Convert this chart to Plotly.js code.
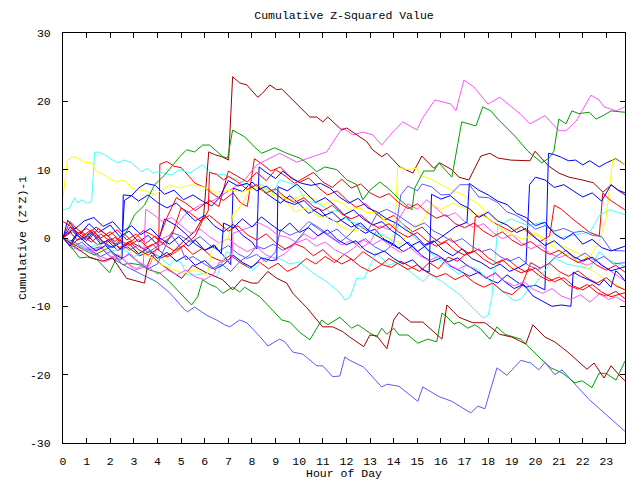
<!DOCTYPE html>
<html>
<head>
<meta charset="utf-8">
<script src="https://cdn.plot.ly/plotly-3.0.1.min.js"></script>
<style>html,body{margin:0;padding:0;background:#fff;}#chart{width:640px;height:480px;}</style>
</head>
<body>
<div id="chart"></div>
<script>
// ---- data: hours and cumulative (Z*Z)-1 values for each run ----
const hourTicks = [0,1,2,3,4,5,6,7,8,9,10,11,12,13,14,15,16,17,18,19,20,21,22,23];
const valueTicks = [-30,-20,-10,0,10,20,30];

const hrsDarkRedA = [0,0.28,0.61,1.04,1.46,1.89,2.31,2.73,3.24,3.67,4.17,4.6,5.15,5.57,5.95,6.17,6.42,6.72,7.01,7.18,7.48,7.78,8.24,8.45,8.75,9.05,9.26,9.6,10.02,10.45,10.74,11.0,11.21,11.8,12.01,12.44,12.86,13.11,13.49,13.71,14.26,14.81,15.19,15.7,15.95,16.46,16.76,17.18,17.69,18.07,18.41,18.96,19.77,19.98,20.57,20.99,21.42,21.97,22.44,22.86,23.2,23.49,23.79];
const valDarkRedA = [0,0.9,-0.3,0.3,-1.0,-0.4,-1.8,-1.3,-2.6,-2.0,-2.9,-2.2,-0.3,0.9,3.1,12.6,12.2,11.9,11.4,23.6,22.7,22.4,20.6,21.2,22.4,21.7,21.8,20.6,19.2,17.7,17.7,17.0,17.7,15.8,16.1,15.1,14.1,12.9,11.9,12.4,10.4,9.5,12.0,10.2,11.0,10.0,8.9,8.5,12.0,12.4,11.7,11.4,11.3,12.7,10.5,9.5,8.9,8.5,8.1,6.7,7.8,7.0,6.3];

const hrsDarkRedB = [0,0.36,0.70,1.12,1.67,2.10,2.69,3.45,3.58,3.75,4.09,5.02,5.49,6.08,6.76,7.18,7.56,7.99,8.24,8.67,9.05,9.47,9.73,10.32,10.99,11.42,11.84,12.14,12.73,12.99,13.28,13.71,14.0,14.22,14.72,15.23,16.04,16.25,16.76,17.35,17.86,18.49,19.0,19.59,19.89,20.4,20.82,21.37,22.18,22.48,22.9,23.2,23.58,23.79];
const valDarkRedB = [0,-0.9,-1.8,-2.8,-3.4,-2.9,-5.9,-6.6,-4.0,-2.5,-3.7,-5.9,-4.0,-5.1,-6.1,-7.6,-6.1,-6.6,-6.6,-4.9,-5.9,-6.6,-8.1,-10.2,-13.0,-13.0,-13.7,-14.5,-15.9,-14.2,-14.3,-16.2,-12.0,-10.9,-12.3,-12.3,-14.8,-9.8,-11.6,-12.4,-12.4,-14.1,-14.5,-15.5,-12.7,-14.5,-15.2,-16.7,-19.2,-18.3,-20.5,-18.7,-20.2,-20.9];

const hrsSlateA = [0,0.49,1.04,1.55,2.05,2.69,3.37,3.96,4.51,5.15,5.27,5.57,6.08,6.5,6.84,7.06,7.48,7.78,8.33,8.67,9.17,9.39,9.73,10.15,10.74,10.99,11.42,11.72,11.93,12.14,12.73,13.49,13.71,14.22,15.02,15.23,15.91,16.46,17.26,17.56,17.86,18.37,18.79,19.38,19.8,20.14,20.4,20.82,21.12,22.26,23.79];
const valSlateA = [0,-0.6,-1.8,-1.3,-2.9,-4.2,-5.4,-6.4,-8.0,-10.5,-10.8,-10.1,-11.3,-12.0,-12.7,-13.0,-12.0,-12.4,-14.4,-15.8,-14.8,-15.2,-16.7,-17.0,-18.7,-18.7,-20.3,-20.2,-17.4,-17.9,-18.9,-21.8,-21.4,-21.7,-23.9,-21.8,-23.2,-23.9,-25.6,-24.6,-25.0,-19.0,-20.1,-17.9,-18.3,-19.3,-18.2,-20.0,-19.3,-23.6,-28.3];

const hrsSlateB = [0,0.4,0.8,1.2,1.6,2.0,2.4,2.8,3.2,3.6,4.0,4.3,4.6,5.0,5.4,5.8,6.2,6.6,7.0,7.4,7.8,8.2,8.6,9.0,9.2,9.6,10.0,10.4,10.8,11.2,11.6,12.0,12.4,12.8,13.2,13.6,14.0,14.3,14.6,15.0,15.2,15.6,16.0,16.4,16.8,17.2,17.6,18.0,18.4,18.8,19.2,19.6,20.0,20.4,20.8,21.2,21.6,22.0,22.4,22.8,23.2,23.79];
const valSlateB = [0,-1.3,-0.6,-1.9,-2.7,-2.0,-3.2,-2.4,-3.6,-4.5,-3.8,-1.5,0.8,0.3,-0.6,0.2,-1.0,-1.9,-1.1,-2.3,-3.0,-2.4,-3.5,-2.0,1.2,0.4,1.0,2.4,1.6,0.6,1.3,0.0,-0.8,-0.1,-1.3,-2.0,-0.8,6.3,7.6,6.9,7.9,7.5,6.3,6.4,7.8,7.8,6.0,5.9,5.2,3.8,3.3,2.4,1.3,1.8,1.0,1.4,0.8,1.0,0.4,0.2,-1.8,-1.9];

const hrsSlateC = [0,0.4,0.8,1.2,1.6,2.0,2.4,2.8,3.2,3.6,4.0,4.3,4.6,5.0,5.2,5.5,5.9,6.3,6.7,7.1,7.5,7.9,8.2,8.5,8.9,9.3,9.7,10.1,10.5,10.9,11.3,11.7,12.1,12.5,12.9,13.3,13.7,14.1,14.5,14.9,15.3,15.7,16.1,16.5,16.9,17.3,17.7,18.1,18.5,18.9,19.3,19.7,20.1,20.5,20.9,21.3,21.7,22.1,22.5,22.9,23.3,23.79];
const valSlateC = [0,0.9,-0.2,0.7,-0.5,-1.4,-0.6,-1.8,-1.0,-2.1,-1.2,-0.8,0.3,-1.5,-3.2,-2.7,-3.6,-4.5,-3.8,-4.9,-3.4,-2.5,-1.2,-1.6,-0.9,-1.8,-1.2,0.5,2.1,1.1,0.3,-0.7,0.4,1.9,1.0,3.6,4.2,3.5,2.5,1.6,2.2,1.0,0.3,-0.6,-0.1,-1.2,-2.0,-1.6,-2.7,-3.4,-2.8,-4.0,-4.6,-3.9,-2.6,-1.8,-3.0,-2.2,-3.3,-2.7,-3.8,-3.6];

const hrsGreenA = [0,0.28,0.70,1.04,1.46,1.97,2.27,2.52,2.82,3.24,3.67,4.09,4.51,5.36,5.44,5.7,5.91,6.21,6.5,6.76,7.18,7.48,7.69,8.33,8.75,9.26,9.6,10.02,10.45,10.95,11.21,11.72,12.22,12.48,12.99,13.28,13.49,13.71,14.0,14.22,14.6,15.02,15.44,15.82,16.04,16.21,16.55,16.76,17.14,17.43,17.65,18.07,18.37,18.71,19.38,19.72,20.23,20.65,21.16,21.67,21.97,22.39,22.69,22.98,23.41,23.79];
const valGreenA = [0,-1.0,-2.9,-2.8,-3.2,-5.1,-2.9,-3.9,-3.7,-3.9,-4.7,-5.1,-6.4,-9.4,-9.8,-8.6,-6.1,-6.8,-7.2,-8.1,-7.2,-7.9,-7.2,-8.6,-10.2,-12.0,-12.3,-13.8,-14.9,-12.0,-12.7,-11.6,-13.2,-12.7,-13.9,-14.5,-13.2,-14.1,-13.2,-14.2,-14.2,-15.4,-14.8,-15.2,-11.0,-11.4,-12.6,-12.3,-13.2,-12.7,-13.2,-14.8,-13.0,-14.1,-14.8,-16.0,-17.7,-19.0,-19.8,-21.2,-20.9,-21.9,-19.8,-19.8,-20.8,-18.0];

const hrsGreenB = [0,0.49,0.91,1.33,1.76,2.18,2.61,3.03,3.45,3.88,4.3,4.94,5.23,5.57,5.91,6.21,6.76,6.97,7.18,7.69,8.11,8.41,8.96,9.47,10.02,10.32,10.74,11.08,11.59,12.01,12.44,12.69,12.99,13.41,13.75,14.26,14.77,14.89,15.27,15.7,15.91,16.46,16.88,17.48,17.77,18.11,18.41,19.13,19.68,20.27,20.57,20.78,20.99,21.29,21.54,21.84,22.27,22.56,22.86,23.2,23.79];
const valGreenB = [0,-1.0,-1.8,-2.5,-1.8,-1.0,0.4,3.4,4.8,7.8,9.2,11.9,12.9,12.6,13.6,13.6,11.9,11.7,15.8,14.8,13.3,12.4,13.2,12.4,11.7,11.0,9.7,10.4,10.0,8.5,7.8,5.6,7.0,8.2,7.3,5.6,4.1,7.3,9.8,9.8,11.0,8.9,17.0,16.4,19.2,18.6,17.4,14.9,12.7,11.0,11.7,12.7,17.4,16.7,18.6,18.2,18.4,17.4,17.9,18.6,18.4];

const hrsMagentaA = [0,0.49,1.12,1.76,2.39,3.03,3.67,4.09,4.51,5.15,5.78,6.42,7.06,7.69,8.2,8.62,9.17,9.89,10.57,11.16,11.63,11.84,12.27,12.69,13.11,13.49,13.96,14.38,14.98,15.23,15.74,16.42,16.63,16.97,17.39,17.99,18.49,18.83,19.34,19.77,20.4,20.99,21.29,21.72,22.35,22.69,22.9,23.41,23.79];
const valMagentaA = [0,-1.0,-1.8,-3.5,-2.5,-4.7,-4.0,-0.3,0.4,3.4,4.8,5.6,7.0,8.5,10.7,11.4,12.4,11.1,11.9,12.6,15.1,16.1,15.1,15.5,15.1,13.6,15.5,17.0,15.8,17.6,20.2,19.6,18.6,23.1,22.1,19.6,20.6,19.6,18.2,16.7,17.9,15.7,15.7,17.1,20.9,20.2,19.2,18.6,19.2];

const hrsMagentaB = [0,0.3,0.7,1.1,1.5,1.9,2.3,2.7,3.1,3.4,3.5,3.8,4.2,4.6,5.0,5.4,5.8,6.2,6.6,7.0,7.4,7.8,8.2,8.6,9.0,9.4,9.8,10.2,10.6,11.0,11.4,11.8,12.2,12.6,13.0,13.4,13.8,14.2,14.6,15.0,15.4,15.8,16.2,16.6,17.0,17.4,17.8,18.2,18.6,19.0,19.4,19.8,20.2,20.6,21.0,21.4,21.8,22.2,22.6,23.0,23.4,23.79];
const valMagentaB = [0,-0.9,-1.9,-1.4,-2.6,-3.1,-2.4,-3.6,-4.5,-3.9,4.2,3.5,2.4,3.0,1.8,0.7,1.3,0.2,-0.7,-0.1,-1.2,-2.0,-1.3,-2.5,-3.0,-2.3,-0.9,0.6,-0.2,0.9,-0.1,-1.0,-0.4,-1.5,-0.6,1.8,1.2,2.7,5.0,4.2,5.6,4.4,3.1,3.7,2.4,1.5,2.1,0.8,-0.1,0.5,-0.7,-1.6,-1.0,-2.2,-2.9,-2.3,-3.5,-4.0,-3.3,-4.4,-5.4,-6.3];

const hrsMagentaC = [0,0.4,0.8,1.2,1.6,2.0,2.4,2.8,3.2,3.6,4.0,4.4,4.8,5.2,5.6,6.0,6.4,6.6,7.0,7.15,7.2,7.6,8.0,8.3,8.7,9.1,9.5,9.9,10.3,10.7,11.1,11.5,11.9,12.3,12.7,13.1,13.5,13.9,14.3,14.7,15.1,15.5,15.9,16.3,16.7,17.1,17.5,17.9,18.3,18.7,19.1,19.5,19.9,20.3,20.7,21.1,21.5,21.9,22.3,22.7,23.1,23.4,23.79];
const valMagentaC = [0,-1.7,-1.0,-2.1,-1.3,-2.6,-3.3,-2.2,-3.5,-4.2,-5.3,-4.6,-5.4,-4.7,-5.7,-6.1,-5.2,-3.6,-3.2,-3.0,0.7,1.2,1.7,2.2,1.5,0.4,0.1,-0.7,-0.1,-1.2,-0.6,-1.7,-2.4,-1.5,-0.3,-1.0,-0.2,-1.3,-2.1,-1.4,-2.6,-3.3,-2.7,-3.8,-4.6,-3.9,-5.0,-5.8,-5.2,-6.3,-7.0,-6.4,-7.5,-8.1,-7.4,-8.5,-9.0,-8.3,-9.4,-8.2,-9.0,-8.6,-9.4];

const hrsYellowA = [0,0.19,0.4,0.61,0.91,1.21,1.42,1.63,1.89,2.27,2.48,2.69,2.9,3.11,3.45,3.88,4.51,4.94,5.44,5.91,6.42,7.18,7.56,8.11,8.67,9.17,9.73,10.15,10.74,11.0,11.42,11.84,12.14,12.56,12.86,13.28,13.71,14.05,14.17,14.55,14.98,15.11,15.65,16.16,16.93,17.52,18.24,19.13,19.68,20.57,20.99,21.84,22.27,22.69,22.98,23.28,23.49,23.79];
const valYellowA = [6.0,11.4,11.9,11.7,11.1,11.0,9.7,9.5,8.8,8.2,8.5,8.2,7.3,7.0,7.0,6.3,7.8,7.3,7.8,7.5,6.7,7.0,6.7,7.3,6.6,6.0,5.6,6.3,5.6,4.8,5.6,5.1,4.1,4.4,3.7,3.8,2.2,1.6,10.4,10.0,10.2,9.2,8.5,7.5,6.3,5.1,2.8,1.3,0.9,-0.4,-0.9,-2.3,-2.9,-0.6,2.8,11.7,11.3,10.7];

const hrsYellowB = [0,0.4,0.9,1.4,1.9,2.4,2.6,3.1,3.6,4.1,4.6,5.1,5.6,6.1,6.3,6.6,7.0,7.2,7.5,7.9,8.3,8.8,9.3,9.8,10.3,10.8,11.3,11.8,12.3,12.8,13.3,13.8,14.3,14.8,15.2,15.6,16.0,16.5,17.0,17.5,18.0,18.5,19.0,19.5,20.0,20.5,21.0,21.5,22.0,22.5,23.0,23.4,23.79];
const valYellowB = [0,-1.2,-0.5,-2.0,-1.4,-3.0,-0.8,-1.9,-2.6,-3.8,-4.5,-5.2,-4.6,-5.5,-1.7,-0.7,-0.1,3.5,4.6,7.0,7.6,6.8,6.2,3.8,4.4,3.2,3.0,1.6,1.0,1.5,0.2,0.0,-0.8,1.6,2.3,4.9,4.2,5.1,4.4,3.4,2.9,1.4,0.5,-0.2,0.8,-0.6,-2.0,-2.6,-4.0,-5.0,-6.2,-6.8,-7.6];

const hrsCyanA = [0,0.28,0.49,0.61,0.79,1.0,1.21,1.34,1.46,1.76,2.1,2.31,2.6,2.9,3.32,3.58,3.8,4.05,4.3,4.6,4.94,5.36,5.9,6.3,6.9,7.4,7.9,8.4,8.9,9.17,9.47,9.9,10.3,10.8,11.3,11.7,12.1,12.6,13.1,13.6,14.0,14.26,14.68,15.11,15.4,15.8,16.2,16.76,17.05,17.5,18.2,18.6,19.1,19.4,19.7,20.0,20.8,21.3,22.3,22.7,23.1,23.79];
const valCyanA = [4.1,4.4,5.9,5.1,5.6,5.1,5.3,12.5,12.6,12.2,11.4,11.0,11.4,11.0,9.7,10.2,9.5,9.7,9.5,9.2,10.0,9.5,10.7,9.5,9.2,8.5,7.6,7.8,6.6,8.5,8.2,7.6,5.4,5.1,3.8,4.1,2.5,2.0,0.6,0.4,-0.6,2.6,0.7,-0.7,-1.8,-2.8,-3.9,-5.3,-4.0,-4.5,-6.7,-7.8,-9.2,-8.9,-7.5,-6.7,-2.9,-3.8,-4.5,-2.0,-3.2,-4.2];

const hrsCyanB = [0,0.5,1.0,1.5,2.0,2.5,3.0,3.5,3.67,4.09,4.51,4.72,5.02,5.23,5.65,6.08,6.5,6.93,7.48,8.03,8.62,9.05,9.6,10.02,10.57,11.16,11.72,11.93,12.14,12.44,12.73,13.24,13.49,13.79,14.17,14.72,15.23,15.53,16.04,16.76,17.35,17.77,18.0,18.15,18.41,18.96,19.68,20.27,21.04,21.67,22.31,22.73,23.16,23.79];
const valCyanB = [0,-0.8,-1.6,-0.9,-2.0,-1.5,-2.7,-2.1,-1.8,-2.8,-4.0,-3.2,-3.7,-5.4,-5.4,-5.1,-5.7,-2.0,-3.2,-4.7,-2.9,-2.8,-3.8,-3.5,-5.1,-6.4,-8.0,-9.1,-8.7,-5.9,-6.0,-2.2,-2.9,-4.0,-3.5,-5.0,-6.4,-5.3,-6.4,-8.2,-10.2,-11.7,-11.3,-8.8,1.8,2.8,1.8,2.3,0.0,0.4,0.9,3.4,4.1,3.4];

const hrsBlueA = [0,0.3,0.7,1.1,1.5,2.0,2.4,2.8,3.2,3.6,4.0,4.3,4.8,5.2,5.6,6.0,6.4,6.8,7.1,7.2,7.6,8.0,8.4,8.8,9.2,9.6,10.0,10.4,10.8,11.2,11.6,12.0,12.4,12.8,13.2,13.6,14.0,14.4,14.8,15.2,15.6,16.0,16.4,16.8,17.2,17.6,18.0,18.4,18.8,19.2,19.6,20.0,20.4,20.55,20.8,21.1,21.4,21.7,22.0,22.3,22.7,23.0,23.4,23.79];
const valBlueA = [0,1.6,0.5,2.1,0.8,1.9,0.2,1.0,-0.6,0.4,-1.0,2.8,1.8,0.6,-0.9,-1.8,-1.2,-2.6,-3.9,7.3,6.8,8.2,7.0,6.0,5.1,6.2,5.0,3.6,4.4,3.0,2.3,3.1,1.6,0.7,1.3,-0.2,-0.9,-2.0,-1.2,-2.6,-3.5,-2.9,-4.1,-4.8,-5.6,-5.0,-6.0,-6.6,-5.4,-6.4,-7.2,-6.9,-7.6,12.4,12.2,11.8,11.3,11.4,10.7,11.3,10.4,11.0,11.6,10.7];

const hrsBlueB = [0,0.3,0.6,1.0,1.3,1.7,2.1,2.5,2.6,2.9,3.2,3.6,4.0,4.4,4.8,5.2,5.6,6.0,6.4,6.8,7.2,7.6,8.0,8.2,8.3,8.6,9.0,9.3,9.7,10.1,10.5,10.9,11.3,11.7,12.1,12.5,12.9,13.3,13.7,14.1,14.5,14.9,15.3,15.7,16.1,16.5,16.9,17.3,17.7,18.1,18.5,18.9,19.3,19.6,19.75,20.0,20.4,20.8,21.2,21.6,22.0,22.4,22.8,23.2,23.5,23.79];
const valBlueB = [0,-0.9,0.8,-0.4,1.0,-0.6,-1.4,-0.5,5.5,6.2,5.4,6.3,5.2,4.4,5.1,3.8,2.5,3.3,1.8,0.9,2.0,0.4,-0.6,-1.6,10.4,9.6,8.7,9.8,8.7,8.0,7.7,8.0,7.3,6.0,5.1,5.8,4.4,3.8,2.8,2.2,1.2,0.4,-1.0,-0.4,-1.8,-2.6,-1.6,-3.0,-3.6,-4.5,-3.8,-4.9,-4.3,-3.7,7.8,8.9,8.5,7.4,7.8,6.9,6.0,6.6,5.4,7.8,7.0,6.6];

const hrsBlueC = [0,0.4,0.8,1.2,1.6,2.0,2.4,2.8,3.2,3.6,4.0,4.4,4.8,5.2,5.6,6.0,6.4,6.8,7.2,7.6,8.0,8.4,8.8,9.05,9.1,9.5,9.9,10.3,10.7,11.1,11.5,11.9,12.3,12.7,13.1,13.5,13.9,14.3,14.7,15.1,15.5,15.9,16.3,16.7,17.1,17.5,17.9,18.3,18.7,19.1,19.5,19.9,20.3,20.7,21.1,21.5,21.6,21.9,22.3,22.7,22.9,23.2,23.4,23.6,23.79];
const valBlueC = [0,1.2,-0.3,0.8,-0.9,-0.1,-1.6,-0.8,-2.3,-1.5,-3.0,-2.1,-3.4,-2.6,-4.0,-3.3,-4.6,-3.9,-2.5,-3.6,-4.3,-2.9,-3.3,-3.2,7.5,6.9,7.9,6.6,5.2,5.9,4.8,3.4,4.1,2.8,1.9,2.4,1.1,0.2,-1.2,-0.5,-1.9,-2.6,-3.5,-2.9,-4.0,-4.8,-5.9,-5.1,-6.4,-7.4,-6.8,-8.5,-9.3,-10.0,-9.8,-10.0,-5.0,-5.6,-6.2,-6.9,-6.1,-7.2,-4.8,-5.4,-6.3];

const hrsBlueD = [0,0.3,0.6,1.0,1.4,1.8,2.2,2.5,2.55,2.9,3.2,3.5,3.9,4.3,4.7,5.1,5.5,5.9,6.3,6.6,7.0,7.4,7.8,8.2,8.6,9.0,9.4,9.8,10.2,10.6,11.0,11.4,11.8,12.2,12.6,13.0,13.4,13.8,14.2,14.6,15.0,15.4,15.8,16.2,16.6,17.1,17.2,17.6,18.0,18.4,18.8,19.2,19.6,20.0,20.4,20.8,21.2,21.6,22.0,22.4,22.8,23.2,23.79];
const valBlueD = [0,-1.2,0.5,-0.8,-1.9,-1.1,-2.4,-3.0,6.3,6.2,7.3,8.0,7.7,6.4,7.0,5.6,6.3,5.4,4.7,5.8,8.4,7.6,8.0,6.9,7.6,6.5,5.4,4.9,5.5,4.1,3.2,3.8,2.5,1.6,2.2,0.9,0.1,-0.8,-1.5,-0.6,-2.0,-1.0,-0.4,0.6,1.6,2.3,8.0,7.0,6.3,5.4,4.9,3.6,3.0,1.8,2.3,0.6,-0.2,0.7,-0.9,-0.2,-1.4,-1.9,-1.2];

const hrsBlueE = [0,0.2,0.5,0.9,1.3,1.7,2.1,2.5,2.9,3.3,3.7,4.1,4.5,4.9,5.3,5.6,6.0,6.4,6.7,6.8,7.2,7.6,8.0,8.4,8.8,9.2,9.6,10.0,10.4,10.8,11.2,11.6,12.0,12.4,12.8,13.2,13.6,14.0,14.4,14.8,15.2,15.5,15.6,16.0,16.4,16.8,17.2,17.6,18.0,18.4,18.8,19.2,19.6,20.0,20.4,20.8,21.2,21.6,22.0,22.4,22.8,23.2,23.79];
const valBlueE = [0,2.6,1.3,2.5,3.0,1.7,2.4,0.9,1.8,0.5,1.4,0.0,-0.9,0.2,-1.2,-0.3,-1.8,-1.0,-2.3,2.2,1.5,2.8,1.6,3.1,2.0,1.0,2.2,0.8,1.5,0.3,1.2,-0.2,-1.0,-0.4,-1.8,-2.5,-1.9,-3.0,-3.8,-3.2,-4.6,-5.0,6.4,5.7,6.2,5.0,4.3,3.0,3.8,2.5,1.9,0.8,1.4,0.0,-1.1,-0.4,-1.6,-2.7,-3.4,-2.8,-4.0,-4.8,-4.2];

const hrsRedA = [0,0.3,0.6,1.0,1.4,1.8,2.2,2.6,3.0,3.4,3.8,4.05,4.1,4.4,4.7,5.0,5.3,5.6,6.0,6.4,6.8,7.2,7.5,7.8,8.1,8.4,8.8,9.2,9.6,10.0,10.4,10.8,11.2,11.6,12.0,12.4,12.8,13.2,13.6,14.0,14.4,14.8,15.2,15.6,16.0,16.4,16.8,17.2,17.6,18.0,18.4,18.8,19.2,19.6,20.0,20.4,20.8,21.2,21.6,22.0,22.4,22.8,23.2,23.79];
const valRedA = [0,2.4,1.3,0.4,1.6,0.5,-0.5,0.6,-0.8,-1.6,-0.9,-1.8,10.8,11.2,10.5,10.3,9.2,8.0,7.4,6.3,5.5,6.6,5.2,4.6,11.6,10.9,9.8,10.4,9.0,8.1,8.8,7.4,6.3,6.9,5.6,4.5,5.0,3.7,2.6,3.3,2.0,0.9,1.6,0.2,-0.8,-0.1,-1.4,-2.3,-1.6,-2.9,-3.7,-3.0,-4.2,-5.0,-4.4,-5.6,-6.4,-5.8,-7.0,-7.6,-6.8,-7.9,-8.6,-8.0];

const hrsRedB = [0,0.3,0.7,1.1,1.5,1.9,2.3,2.7,3.1,3.5,3.9,4.3,4.7,5.1,5.5,5.9,6.3,6.7,7.1,7.5,7.9,8.3,8.7,9.1,9.5,9.9,10.3,10.7,11.1,11.5,11.9,12.3,12.7,13.1,13.5,13.9,14.3,14.7,15.1,15.5,15.9,16.3,16.7,17.1,17.35,17.45,17.8,18.2,18.6,19.0,19.4,19.8,20.2,20.6,20.8,21.1,21.5,21.9,22.3,22.7,22.85,23.1,23.4,23.79];
const valRedB = [0,-0.6,0.9,-0.2,1.4,0.3,1.2,-0.3,0.6,-0.8,0.3,-1.0,-1.9,-1.1,-2.4,-1.5,-2.8,-3.4,-2.5,-3.6,-4.4,-3.5,-4.5,-3.7,-4.9,-4.2,-3.0,-3.8,-2.7,-3.6,-2.4,-3.3,-2.0,-2.9,-3.9,-4.3,-3.4,-4.2,-4.9,-3.6,-4.5,-2.8,-3.4,-2.2,-2.0,3.1,3.4,2.3,1.6,0.9,1.7,0.5,-0.5,0.3,4.8,4.2,3.0,1.9,0.8,0.3,6.6,5.7,5.0,4.1];

const hrsRedC = [0,0.3,0.6,1.0,1.4,1.8,2.2,2.6,3.0,3.4,3.8,4.2,4.6,5.0,5.4,5.8,6.2,6.6,7.0,7.4,7.8,8.2,8.6,9.0,9.4,9.8,10.2,10.6,11.0,11.4,11.8,12.2,12.6,13.0,13.4,13.8,14.2,14.6,15.0,15.4,15.8,16.2,16.6,17.0,17.4,17.8,18.2,18.6,19.0,19.4,19.8,20.2,20.6,21.0,21.4,21.8,22.2,22.6,23.0,23.4,23.79];
const valRedC = [2.4,1.8,0.6,1.4,0.3,-0.8,0.1,-1.1,-0.2,1.1,0.4,-0.8,0.3,4.4,3.6,2.5,3.3,2.1,1.0,1.8,0.5,-0.3,0.6,-0.7,-1.6,-0.8,-1.4,-2.6,-1.7,-3.0,-3.8,-3.1,-4.2,-4.9,-4.1,-3.0,-3.8,-4.6,-3.9,-5.0,-5.7,-5.2,-6.1,-5.4,-6.5,-7.2,-6.6,-7.8,-8.3,-7.1,-3.6,-4.4,-3.7,-4.9,-5.6,-4.8,-5.9,-6.6,-5.8,-7.0,-7.6];

const hrsRedD = [0,0.4,0.8,1.2,1.6,2.0,2.4,2.8,3.2,3.6,4.0,4.4,4.8,5.2,5.6,5.9,6.2,6.6,7.0,7.4,7.8,8.2,8.6,9.0,9.4,9.8,10.2,10.6,11.0,11.4,11.8,12.2,12.6,13.0,13.4,13.8,14.2,14.6,15.0,15.4,15.8,16.2,16.6,17.0,17.4,17.8,18.2,18.6,19.0,19.4,19.8,20.2,20.6,21.0,21.4,21.8,22.2,22.6,23.0,23.4,23.79];
const valRedD = [0,1.5,0.2,1.2,0.0,0.9,-0.3,-1.1,-0.2,-1.4,-0.6,3.0,5.9,5.1,4.0,4.7,5.5,4.6,9.8,9.0,8.2,9.6,8.4,10.0,9.1,8.0,8.8,9.6,8.2,7.4,8.6,7.3,7.9,6.6,5.9,6.5,5.2,4.3,5.0,3.8,2.9,3.4,2.1,1.5,2.2,1.0,0.2,0.9,-0.3,-1.1,-0.5,-1.6,-2.4,-1.8,-2.8,-3.6,-2.9,-4.0,-4.7,-4.0,-5.0];

const hrsRedE = [0,0.4,0.8,1.2,1.6,2.0,2.4,2.8,3.2,3.6,4.0,4.4,4.8,5.2,5.6,5.9,6.15,6.2,6.5,6.8,7.0,7.4,7.8,8.2,8.6,9.0,9.4,9.8,10.2,10.6,11.0,11.4,11.8,12.2,12.6,13.0,13.4,13.8,14.2,14.6,15.0,15.4,15.8,16.2,16.6,17.0,17.4,17.8,18.2,18.6,19.0,19.4,19.8,20.2,20.6,21.0,21.4,21.8,22.2,22.6,23.0,23.4,23.79];
const valRedE = [0,-0.9,0.3,-0.6,0.6,-0.5,-1.4,-0.5,-1.7,-2.5,-1.6,-2.8,-2.0,-0.8,0.3,2.5,4.0,9.6,9.3,8.5,9.0,8.2,7.1,7.8,6.6,7.2,6.0,5.2,5.9,4.6,4.0,4.8,3.5,2.8,3.4,2.2,1.4,2.1,0.9,0.1,0.8,-0.4,-1.2,-0.6,-1.8,-2.5,-1.9,-3.1,-3.9,-3.2,-4.4,-5.1,-4.5,-5.6,-6.3,-5.7,-6.9,-7.5,-6.8,-8.0,-8.5,-7.8,-8.9];

// ---- series table (built from the arrays above) ----
const RED = '#ff0000', GREEN = '#00a000', BLUE = '#0000ff', MAGENTA = '#ff55ff',
      CYAN = '#44ffff', DARKRED = '#a00000', YELLOW = '#ffff00', SLATE = '#5a5aff';
const series = [
  [hrsRedA, valRedA, RED], [hrsGreenA, valGreenA, GREEN], [hrsBlueA, valBlueA, BLUE],
  [hrsMagentaA, valMagentaA, MAGENTA], [hrsCyanA, valCyanA, CYAN], [hrsDarkRedA, valDarkRedA, DARKRED],
  [hrsYellowA, valYellowA, YELLOW], [hrsSlateA, valSlateA, SLATE],
  [hrsRedB, valRedB, RED], [hrsGreenB, valGreenB, GREEN], [hrsBlueB, valBlueB, BLUE],
  [hrsMagentaB, valMagentaB, MAGENTA], [hrsCyanB, valCyanB, CYAN], [hrsDarkRedB, valDarkRedB, DARKRED],
  [hrsYellowB, valYellowB, YELLOW], [hrsSlateB, valSlateB, SLATE],
  [hrsRedC, valRedC, RED], [hrsBlueC, valBlueC, BLUE], [hrsMagentaC, valMagentaC, MAGENTA],
  [hrsSlateC, valSlateC, SLATE], [hrsRedD, valRedD, RED], [hrsBlueD, valBlueD, BLUE],
  [hrsRedE, valRedE, RED], [hrsBlueE, valBlueE, BLUE]
];

const traces = series.map(s => ({
  x: s[0], y: s[1], type: 'scatter', mode: 'lines',
  line: {color: s[2], width: 1}, hoverinfo: 'skip', showlegend: false
}));

const FONT = 'Liberation Mono, DejaVu Sans Mono, monospace';
const layout = {
  width: 640, height: 480,
  paper_bgcolor: '#ffffff', plot_bgcolor: '#ffffff',
  margin: {l: 63, r: 15, t: 33, b: 37, pad: 0},
  font: {family: FONT, size: 11.5, color: '#000'},
  title: {text: 'Cumulative Z-Squared Value', font: {family: FONT, size: 11.5, color: '#000'},
          x: 0.5, xref: 'paper', xanchor: 'center', y: 1 - 15/480, yref: 'container', yanchor: 'middle'},
  xaxis: {
    range: [0, 23.79], tickmode: 'array', tickvals: hourTicks, ticktext: hourTicks.map(String),
    ticks: 'inside', ticklen: 5, tickcolor: '#000', tickwidth: 1,
    showline: true, linecolor: '#000', linewidth: 1, mirror: 'ticks',
    showgrid: false, zeroline: false, ticklabelstandoff: 7,
    tickfont: {family: FONT, size: 11.5, color: '#000'},
    title: {text: 'Hour of Day', font: {family: FONT, size: 11.5, color: '#000'}, standoff: 2}
  },
  yaxis: {
    range: [-30, 30], tickmode: 'array', tickvals: valueTicks, ticktext: valueTicks.map(String),
    ticks: 'inside', ticklen: 5, tickcolor: '#000', tickwidth: 1,
    showline: true, linecolor: '#000', linewidth: 1, mirror: 'ticks',
    showgrid: false, zeroline: false, ticklabelstandoff: 9,
    tickfont: {family: FONT, size: 11.5, color: '#000'},
    title: {text: 'Cumulative (Z*Z)-1', font: {family: FONT, size: 11.5, color: '#000'}, standoff: 0}
  }
};

Plotly.newPlot('chart', traces, layout, {staticPlot: true, displayModeBar: false});
</script>
</body>
</html>
